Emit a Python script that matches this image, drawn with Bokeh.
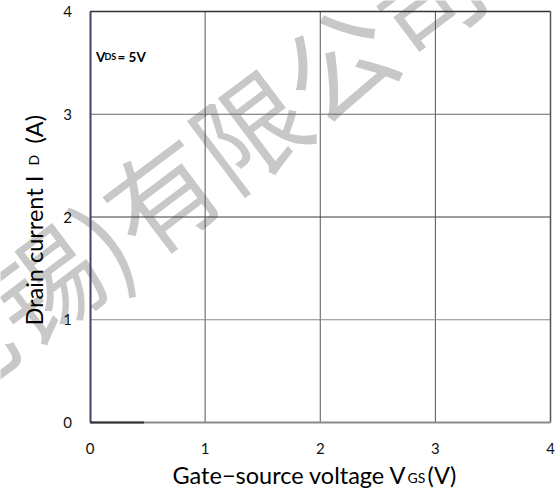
from bokeh.plotting import figure
from bokeh.models import Label, Range1d, FixedTicker
from bokeh.embed import file_html
from bokeh.resources import INLINE
import math

# data
vgs = [0.0, 0.47]
i_d = [0.0, 0.0]
x_ticks = [0, 1, 2, 3, 4]
y_ticks = [0, 1, 2, 3, 4]

FONT = "Lato"
W, H = 559, 488
# pixel box of the plot area (left, right, top, bottom)
BL, BR, BT, BB = 89.5, 550.0, 11.0, 422.0
x0, x1 = x_ticks[0], x_ticks[-1]
y0, y1 = y_ticks[0], y_ticks[-1]
sx = (BR - BL) / (x1 - x0)
sy = (BB - BT) / (y1 - y0)

def dx(px):
    return x0 + (px - BL) / sx

def dy(py):
    return y0 + (BB - py) / sy

p = figure(width=W, height=H, output_backend="svg", toolbar_location=None,
           x_range=Range1d(dx(0), dx(W)), y_range=Range1d(dy(H), dy(0)),
           min_border_left=0, min_border_right=0, min_border_top=0, min_border_bottom=0)
p.background_fill_color = "white"
p.border_fill_color = "white"
p.outline_line_color = None
p.grid.visible = False

for ax in (p.xaxis, p.yaxis):
    ax.fixed_location = 0
    ax.bounds = (0, 4)
    ax.major_tick_line_color = None
    ax.minor_tick_line_color = None
    ax.major_label_text_font = FONT
    ax.major_label_text_font_size = "15px"
    ax.major_label_text_color = "#111111"
p.xaxis.ticker = FixedTicker(ticks=x_ticks)
p.yaxis.ticker = FixedTicker(ticks=y_ticks)
p.xaxis.major_label_standoff = 14
p.yaxis.major_label_standoff = 12
p.xaxis.axis_line_color = "#8a8a8a"
p.xaxis.axis_line_width = 2
p.yaxis.axis_line_color = "#4d3f63"
p.yaxis.axis_line_width = 2

# watermark
wm = Label(x=dx(466), y=dy(-40), text="(无锡)有限公司", angle=math.radians(37),
           text_align="right", text_baseline="middle",
           text_font="Noto Sans CJK SC", text_font_size="110px",
           text_color="#c8c8c8", level="image")
p.add_layout(wm)

# grid lines (at inner ticks) and top/right border of the plot box
inner_x = x_ticks[1:-1]
inner_y = y_ticks[1:-1]
p.segment(x0=inner_x, y0=[y0] * len(inner_x), x1=inner_x, y1=[y1] * len(inner_x),
          line_color="#555555", line_width=1)
p.segment(x0=[x0] * len(inner_y), y0=inner_y, x1=[x1] * len(inner_y), y1=inner_y,
          line_color=["#8a8a8a", "#3a3a3a", "#6a6a6a"], line_width=1)
p.segment(x0=[x0], y0=[y1], x1=[x1], y1=[y1], line_color="#333333", line_width=1.5)
p.segment(x0=[x1], y0=[y0], x1=[x1], y1=[y1], line_color="#555555", line_width=1.5)

p.line(vgs, i_d, line_color="#333333", line_width=2, level="overlay")

# annotation V_DS = 5V
p.add_layout(Label(x=dx(95.5), y=dy(56), text="V", text_font=FONT, text_font_style="bold",
                   text_font_size="13.5px", text_baseline="alphabetic", text_color="black"))
p.add_layout(Label(x=dx(104), y=dy(56), text="DS", text_font=FONT, text_font_style="bold",
                   text_font_size="9px", text_baseline="alphabetic", text_color="black"))
p.add_layout(Label(x=dx(117), y=dy(56), text="= 5V", text_font=FONT, text_font_style="bold",
                   text_font_size="13.5px", text_baseline="alphabetic", text_color="black"))

# x axis title
p.add_layout(Label(x=dx(172), y=dy(474), text="Gate\u2212source voltage V", text_font=FONT,
                   text_font_size="23.5px", text_baseline="alphabetic", text_color="black"))
p.add_layout(Label(x=dx(407), y=dy(477), text="GS", text_font=FONT,
                   text_font_size="14px", text_baseline="alphabetic", text_color="black"))
p.add_layout(Label(x=dx(427), y=dy(474), text="(V)", text_font=FONT,
                   text_font_size="23.5px", text_baseline="alphabetic", text_color="black"))

# y axis title (rotated)
p.add_layout(Label(x=dx(33), y=dy(325), text="Drain current I", text_font=FONT, angle=math.pi/2,
                   text_font_size="23.5px", text_baseline="alphabetic", text_align="left",
                   text_color="black"))
p.add_layout(Label(x=dx(33), y=dy(165), text="D", text_font=FONT, angle=math.pi/2,
                   text_font_size="14px", text_baseline="alphabetic", text_align="left",
                   text_color="black"))
p.add_layout(Label(x=dx(33), y=dy(143), text="(A)", text_font=FONT, angle=math.pi/2,
                   text_font_size="23.5px", text_baseline="alphabetic", text_align="left",
                   text_color="black"))

open("out.html", "w").write(file_html(p, INLINE))
